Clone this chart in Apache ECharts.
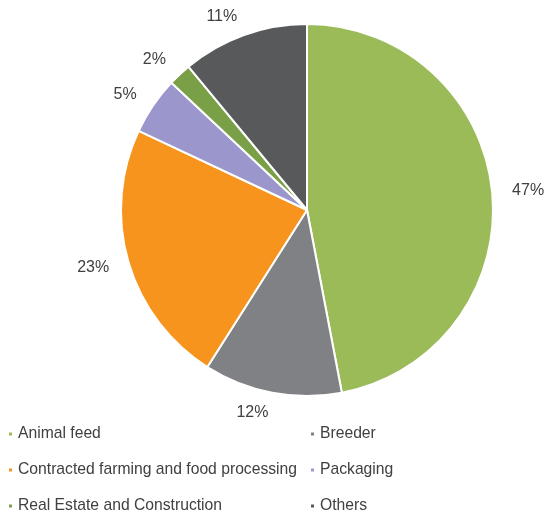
<!DOCTYPE html>
<html>
<head>
<meta charset="utf-8">
<script src="https://cdn.jsdelivr.net/npm/echarts@6/dist/echarts.min.js"></script>
<style>html,body{margin:0;padding:0;background:#fff}#c{width:546px;height:512px}</style>
</head>
<body>
<div id="c"></div>
<script>
const categories = ['Animal feed', 'Breeder', 'Contracted farming and food processing', 'Packaging', 'Real Estate and Construction', 'Others'];
const values = [47, 12, 23, 5, 2, 11];
const colors = ['#9BBB59', '#808184', '#F7941D', '#9B97CC', '#7AA047', '#58595B'];
const leftLegend = ['Animal feed', 'Contracted farming and food processing', 'Real Estate and Construction'];
const rightLegend = ['Breeder', 'Packaging', 'Others'];

const chart = echarts.init(document.getElementById('c'));
const legendBase = {
  orient: 'vertical', icon: 'rect', itemWidth: 5, itemHeight: 5, itemGap: 20, padding: 0,
  textStyle: { color: '#404040', fontSize: 15.7, lineHeight: 16, fontFamily: '"Liberation Sans", Arial, sans-serif' },
  top: 426, height: 100, selectedMode: false
};
chart.setOption({
  animation: false,
  color: colors,
  legend: [
    Object.assign({}, legendBase, { left: 7, width: 300, data: leftLegend }),
    Object.assign({}, legendBase, { left: 309, width: 200, data: rightLegend })
  ],
  series: [{
    type: 'pie',
    center: [307, 210],
    radius: 186,
    startAngle: 90,
    clockwise: true,
    avoidLabelOverlap: false,
    itemStyle: { borderColor: '#fff', borderWidth: 2 },
    label: { show: true, position: 'outside', formatter: '{c}%', color: '#404040', fontSize: 16, distanceToLabelLine: 0, fontFamily: '"Liberation Sans", Arial, sans-serif' },
    labelLine: { show: false, length: 20, length2: 0 },
    emphasis: { disabled: true },
    data: categories.map((n, i) => ({ name: n, value: values[i] }))
  }]
});
</script>
</body>
</html>
